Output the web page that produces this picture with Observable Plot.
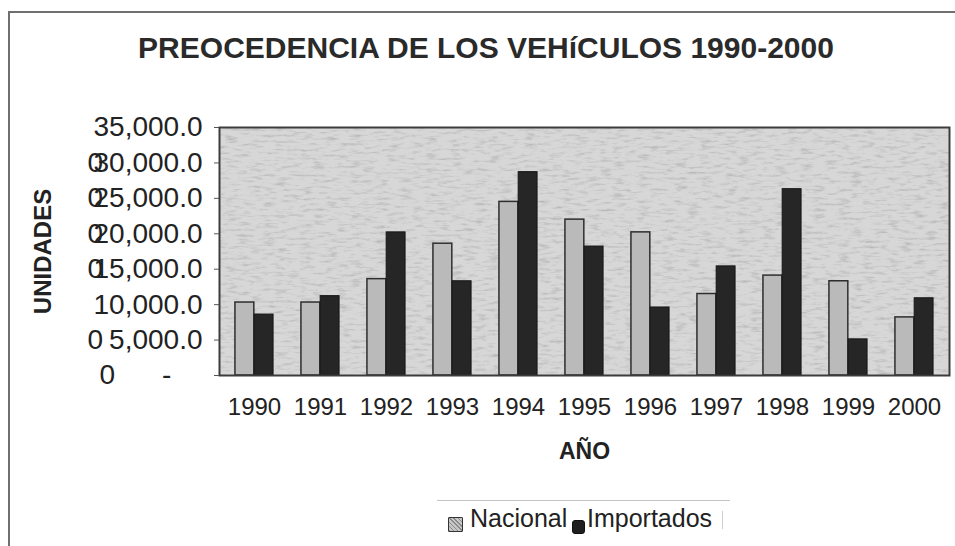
<!DOCTYPE html>
<html>
<head>
<meta charset="utf-8">
<script src="https://cdn.jsdelivr.net/npm/d3@7"></script>
<script src="https://cdn.jsdelivr.net/npm/@observablehq/plot@0.6"></script>
<style>
  html, body { margin: 0; padding: 0; background: #fff; }
  #page { position: relative; width: 955px; height: 546px; overflow: hidden; font-family: "Liberation Sans", Arial, sans-serif; color: #222; }
  #chart { position: absolute; left: 0; top: 0; }
  #outer { position: absolute; left: 8px; top: 11px; width: 960px; height: 560px; border-top: 2px solid #6f6f6f; border-left: 2px solid #6f6f6f; }
  #title { position: absolute; left: 0; top: 30px; width: 972px; text-align: center; font-weight: bold; font-size: 30px; line-height: 36px; color: #2a2a2a; white-space: nowrap; }
  #legend { position: absolute; left: 437px; top: 500px; width: 293px; height: 44px; border-top: 1px solid #c4c4c4; }
  .sw { position: absolute; }
  .lt { position: absolute; font-size: 25px; line-height: 28px; top: 3px; white-space: nowrap; color: #222; }
  #chart svg text { font-family: "Liberation Sans", Arial, sans-serif; fill: #222; }
  #chart g[aria-label="y-axis label"] text { font-weight: bold; font-size: 24px; }
  #chart g[aria-label="x-axis label"] text { font-weight: bold; font-size: 23px; }
</style>
</head>
<body>
<div id="page">
  <div id="outer"></div>
  <div id="chart"></div>
  <div id="title">PREOCEDENCIA DE LOS VEHíCULOS 1990-2000</div>
  <div id="legend"></div>
</div>
<script>
// ---- data ----
const years = ["1990", "1991", "1992", "1993", "1994", "1995", "1996", "1997", "1998", "1999", "2000"];
const nacional = [10300, 10300, 13600, 18600, 24500, 22000, 20200, 11500, 14100, 13300, 8200];
const importados = [8600, 11200, 20200, 13300, 28700, 18200, 9600, 15400, 26300, 5100, 10900];
const seriesNames = ["Nacional", "Importados"];
const yTicks = [0, 5000, 10000, 15000, 20000, 25000, 30000, 35000];
const yTickLabels = ["-\u00a0\u00a0\u00a0\u00a0", "5,000.0", "10,000.0", "15,000.0", "20,000.0", "25,000.0", "30,000.0", "35,000.0"];
const ghostTicks = [5000, 15000, 20000, 25000, 30000];
const ghostLabels = ["0", "0", "0", "0", "0"];
const zeroTick = [0];
const zeroLabel = ["0"];

// ---- layout ----
const W = 955, H = 546;
const mL = 219, mR = 6, mT = 127, mB = 171;
const step = (W - mL - mR) / years.length;
const barW = step * 0.29;
const outer = (step - 2 * barW) / 2;

const natRows = years.map((year, i) => ({year, serie: seriesNames[0], value: nacional[i]}));
const impRows = years.map((year, i) => ({year, serie: seriesNames[1], value: importados[i]}));
const ghostRows = ghostTicks.map((v, i) => ({v, t: ghostLabels[i]}));
const zeroRows = zeroTick.map((v, i) => ({v, t: zeroLabel[i]}));

const chart = Plot.plot({
  width: W,
  height: H,
  marginLeft: mL,
  marginRight: mR,
  marginTop: mT,
  marginBottom: mB,
  x: {domain: years, padding: 0},
  y: {domain: [0, 35000]},
  marks: [
    Plot.frame({fill: "#d7d7d7", className: "bgframe"}),
    Plot.barY(natRows, {x: "year", y: "value", fill: "#bababa", stroke: "#2e2e2e", strokeWidth: 1.5,
      insetLeft: outer, insetRight: step - outer - barW}),
    Plot.barY(impRows, {x: "year", y: "value", fill: "#262626", stroke: "#151515", strokeWidth: 1,
      insetLeft: outer + barW, insetRight: outer}),
    Plot.frame({stroke: "#3c3c3c", strokeWidth: 2}),
    Plot.axisY({ticks: yTicks, tickFormat: d => yTickLabels[yTicks.indexOf(d)], tickSize: 5, tickPadding: 12,
      fontSize: 28, label: "UNIDADES", labelArrow: "none", labelAnchor: "center", labelOffset: 186, stroke: "#555"}),
    Plot.axisX({tickSize: 0, tickPadding: 22, fontSize: 24, label: "AÑO", labelArrow: "none", labelAnchor: "center", labelOffset: 83}),
    Plot.text(ghostRows, {y: "v", text: "t", frameAnchor: "left", textAnchor: "start", dx: -132, fontSize: 28, fill: "#222"}),
    Plot.text(zeroRows, {y: "v", text: "t", frameAnchor: "left", textAnchor: "start", dx: -120, fontSize: 28, fill: "#222"})
  ]
});
document.getElementById("chart").appendChild(chart);

// subtle mottled paper texture on the plot background
const svg = d3.select(chart.tagName.toLowerCase() === "svg" ? chart : chart.querySelector("svg"));
const defs = svg.insert("defs", ":first-child");
const f = defs.append("filter").attr("id", "grain").attr("x", 0).attr("y", 0).attr("width", 1).attr("height", 1);
f.append("feTurbulence").attr("type", "fractalNoise").attr("baseFrequency", "0.08 0.35").attr("numOctaves", 4).attr("seed", 7).attr("result", "noise");
f.append("feColorMatrix").attr("in", "noise").attr("type", "matrix")
  .attr("values", "0 0 0 0 0  0 0 0 0 0  0 0 0 0 0  0 0 0 -0.7 0.36").attr("result", "dark");
f.append("feComposite").attr("in", "dark").attr("in2", "SourceGraphic").attr("operator", "in").attr("result", "darkIn");
f.append("feMerge").call(m => { m.append("feMergeNode").attr("in", "SourceGraphic"); m.append("feMergeNode").attr("in", "darkIn"); });
svg.selectAll(".bgframe rect, rect.bgframe, g.bgframe rect").attr("filter", "url(#grain)");

// ---- legend ----
const legend = document.getElementById("legend");
const swatches = [
  {left: 11, top: 16, w: 15, h: 15, bg: "#a9a9a9", border: "1px solid #333", radius: "1px",
   pattern: "repeating-linear-gradient(45deg, #8a8a8a 0 1px, #c8c8c8 1px 3px)"},
  {left: 135, top: 19, w: 13, h: 14, bg: "#1f1f1f", border: "1px solid #111", radius: "3px", pattern: "none"}
];
const textLefts = [33, 150];
seriesNames.forEach((name, i) => {
  const s = swatches[i];
  const sw = document.createElement("div");
  sw.className = "sw";
  Object.assign(sw.style, {left: s.left + "px", top: s.top + "px", width: s.w + "px", height: s.h + "px",
    background: s.bg, backgroundImage: s.pattern, border: s.border, borderRadius: s.radius, boxSizing: "border-box"});
  legend.appendChild(sw);
  const t = document.createElement("div");
  t.className = "lt";
  t.style.left = textLefts[i] + "px";
  t.textContent = name;
  legend.appendChild(t);
});
const bar = document.createElement("div");
Object.assign(bar.style, {position: "absolute", left: "285px", top: "10px", width: "1px", height: "18px", background: "#d0d0d0"});
legend.appendChild(bar);
</script>
</body>
</html>
